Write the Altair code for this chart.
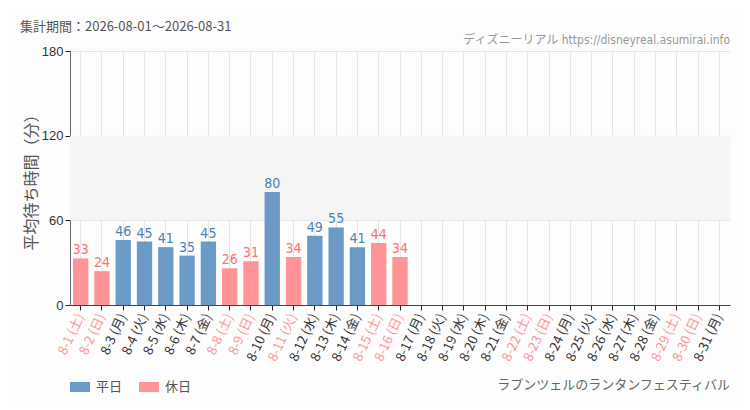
import altair as alt
import pandas as pd

days = ["8-1 (土)", "8-2 (日)", "8-3 (月)", "8-4 (火)", "8-5 (水)", "8-6 (木)", "8-7 (金)",
        "8-8 (土)", "8-9 (日)", "8-10 (月)", "8-11 (火)", "8-12 (水)", "8-13 (木)", "8-14 (金)",
        "8-15 (土)", "8-16 (日)", "8-17 (月)", "8-18 (火)", "8-19 (水)", "8-20 (木)", "8-21 (金)",
        "8-22 (土)", "8-23 (日)", "8-24 (月)", "8-25 (火)", "8-26 (水)", "8-27 (木)", "8-28 (金)",
        "8-29 (土)", "8-30 (日)", "8-31 (月)"]
waits = [33, 24, 46, 45, 41, 35, 45, 26, 31, 80, 34, 49, 55, 41, 44, 34,
         None, None, None, None, None, None, None, None, None, None, None, None, None, None, None]
holidays = ["8-1 (土)", "8-2 (日)", "8-8 (土)", "8-9 (日)", "8-11 (火)", "8-15 (土)", "8-16 (日)",
            "8-22 (土)", "8-23 (日)", "8-29 (土)", "8-30 (日)"]
types = ["休日" if d in holidays else "平日" for d in days]

BLUE = "#6b9ac6"
PINK = "#ff9396"
BLUE_T = "#4f82b8"
PINK_T = "#ff6f73"
NARROW = "Liberation Sans Narrow, DejaVu Sans Condensed, Roboto Condensed, Roboto"

df = pd.DataFrame({"day": days, "wait": waits, "type": types})
band = pd.DataFrame({"y0": [60], "y1": [120]})

W, H = 660, 254
hol_js = "[" + ",".join("'" + h + "'" for h in holidays) + "]"

xenc = alt.X("day:N", sort=days, scale=alt.Scale(domain=days, paddingInner=0.28, paddingOuter=0.14),
             axis=alt.Axis(title=None, labelAngle=295, labelFontSize=13, labelFont="Noto Sans CJK JP",
                           labelColor=alt.condition(f"indexof({hol_js}, datum.value) >= 0",
                                                    alt.value(PINK), alt.value("#333333")),
                           labelPadding=4, domainColor="#444444", tickColor="#222222", tickSize=5,
                           grid=True, gridColor="#e6e6e6", bandPosition=0.5, tickBand="center"))
yscale = alt.Scale(domain=[0, 180], nice=False)

bandlayer = alt.Chart(band).mark_rect(color="#f4f5f4").encode(
    y=alt.Y("y0:Q", scale=yscale), y2="y1:Q")

bars = alt.Chart(df).mark_bar().encode(
    x=xenc,
    y=alt.Y("wait:Q", scale=yscale,
            axis=alt.Axis(title="平均待ち時間（分）", values=[0, 60, 120, 180], titleFontSize=16,
                          titleColor="#555555", titleFontWeight="normal", titleFont="Noto Sans CJK JP",
                          titlePadding=2, labelFontSize=13, labelColor="#333333", labelFont="Arial",
                          domainColor="#666666", tickColor="#222222", tickSize=5,
                          gridColor="#e3e3e3")),
    color=alt.Color("type:N", scale=alt.Scale(domain=["平日", "休日"], range=[BLUE, PINK]),
                    legend=alt.Legend(title=None, orient="none", legendX=0, legendY=H + 72,
                                      direction="horizontal", symbolType="M-1,-0.5H1V0.5H-1Z",
                                      symbolSize=400, symbolStrokeWidth=0, symbolOpacity=1,
                                      labelFontSize=13, labelColor="#555555",
                                      labelFont="Noto Sans CJK JP", columnPadding=16,
                                      labelOffset=6)),
)

labels = alt.Chart(df).mark_text(baseline="bottom", dy=-1, fontSize=14, font=NARROW).encode(
    x=alt.X("day:N", sort=days),
    y=alt.Y("wait:Q"),
    text=alt.Text("wait:Q"),
    color=alt.condition(alt.datum.type == "平日", alt.value(BLUE_T), alt.value(PINK_T)),
)

ann = pd.DataFrame({"t": ["集計期間：2026-08-01～2026-08-31"]})
title = alt.Chart(ann).mark_text(align="left", baseline="middle", fontSize=13, color="#555555",
                                 font="Noto Sans CJK JP").encode(
    x=alt.value(-50), y=alt.value(-24), text="t:N")

ann2 = pd.DataFrame({"t": ["ディズニーリアル https://disneyreal.asumirai.info"]})
site = alt.Chart(ann2).mark_text(align="right", baseline="middle", fontSize=12, color="#999999",
                                 font=NARROW + ", Noto Sans CJK JP").encode(
    x=alt.value(W), y=alt.value(-11), text="t:N")

ann3 = pd.DataFrame({"t": ["ラプンツェルのランタンフェスティバル"]})
attr = alt.Chart(ann3).mark_text(align="right", baseline="middle", fontSize=13, color="#666666",
                                 font="Noto Sans CJK JP").encode(
    x=alt.value(W), y=alt.value(H + 80), text="t:N")

chart = alt.layer(bandlayer, bars, labels, title, site, attr).properties(
    width=W, height=H,
    autosize=alt.AutoSizeParams(type="none"),
    padding={"left": 62, "top": 43, "right": 12, "bottom": 97},
    background="#fdfdfd",
).configure_view(stroke=None)

chart.save("out.html", embed_options={"renderer": "svg", "actions": False})
